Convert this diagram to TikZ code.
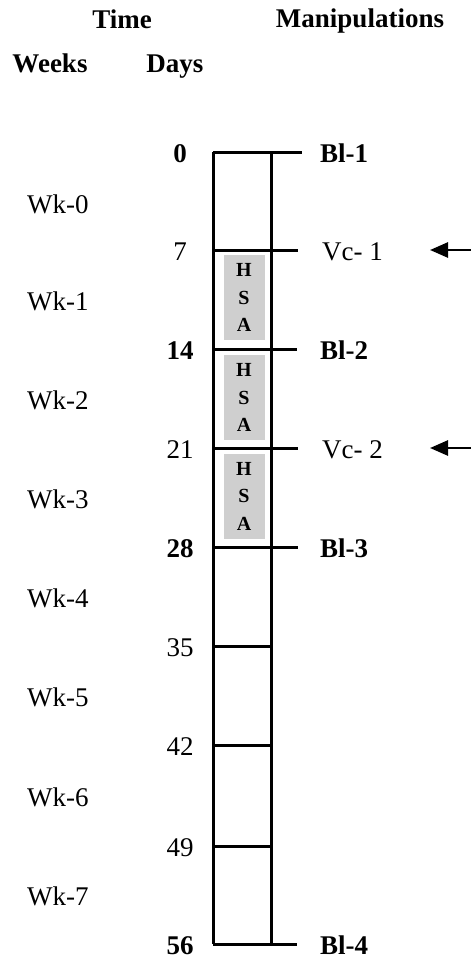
\documentclass[tikz,border=0pt]{standalone}
\usepackage{fontspec}
\setmainfont{Liberation Serif}
\usetikzlibrary{arrows.meta}
\begin{document}
\begin{tikzpicture}[x=1pt,y=-1pt,
  lbl/.style={font=\fontsize{27}{30}\selectfont, inner sep=0pt, anchor=base west},
  blbl/.style={font=\fontsize{27}{30}\selectfont\bfseries, inner sep=0pt, anchor=base west},
  daylbl/.style={font=\fontsize{27}{30}\selectfont, inner sep=0pt, anchor=base},
  bdaylbl/.style={font=\fontsize{27}{30}\selectfont\bfseries, inner sep=0pt, anchor=base},
  head/.style={font=\fontsize{27}{30}\selectfont\bfseries, inner sep=0pt, anchor=base},
  tickline/.style={line width=3pt},
  hsa/.style={fill=gray!38, draw=none, minimum width=41pt, minimum height=85pt,
    align=center, font=\fontsize{20}{27.5}\selectfont\bfseries, inner sep=0pt},
  arr/.style={-{Triangle[length=18pt,width=15pt]}, line width=2.6pt}]
\useasboundingbox (0,0) rectangle (471,959);

% headers
\node[head] (time) at (122,28) {Time};
\node[head] (manip) at (360,27) {Manipulations};
\node[head] (weeks) at (50,72) {Weeks};
\node[head] (days) at (175,72) {Days};

% HSA boxes
\node[hsa] (hsa1) at (244,297.5) {H\\S\\A};
\node[hsa] (hsa2) at (244,397.5) {H\\S\\A};
\node[hsa] (hsa3) at (244,496) {H\\S\\A};

% column
\coordinate (TL) at (213,152);
\coordinate (TR) at (271,152);
\coordinate (BL) at (213,944);
\coordinate (BR) at (271,944);
\draw[tickline] (TL) -- (BL);
\draw[tickline] (TR) -- (BR);

% ticks
\foreach \d/\y/\e in {0/152/302, 7/250/298, 14/349/297, 21/448/298, 28/547/298, 35/646/271, 42/745/271, 49/846/271, 56/944/297}{
  \coordinate (s\d) at (213,\y);
  \coordinate (e\d) at (\e,\y);
  \draw[tickline] (s\d) -- (e\d);
}

% day labels
\node[bdaylbl] (d0) at (180,162) {0};
\node[daylbl] (d7) at (180,260) {7};
\node[bdaylbl] (d14) at (180,359) {14};
\node[daylbl] (d21) at (180,458) {21};
\node[bdaylbl] (d28) at (180,557) {28};
\node[daylbl] (d35) at (180,656) {35};
\node[daylbl] (d42) at (180,755) {42};
\node[daylbl] (d49) at (180,856) {49};
\node[bdaylbl] (d56) at (180,954) {56};

% week labels
\foreach \w/\y in {0/213, 1/310, 2/409, 3/508, 4/607, 5/706, 6/806, 7/905}{
  \node[lbl] (wk\w) at (27,\y) {Wk-\w};
}

% manipulation labels
\node[blbl] (bl1) at (320,162) {Bl-1};
\node[lbl] (vc1) at (322,260) {Vc- 1};
\node[blbl] (bl2) at (320,359) {Bl-2};
\node[lbl] (vc2) at (322,458) {Vc- 2};
\node[blbl] (bl3) at (320,557) {Bl-3};
\node[blbl] (bl4) at (320,954) {Bl-4};

% arrows
\coordinate (a1s) at (472,250);
\coordinate (a1e) at (430,250);
\coordinate (a2s) at (472,448);
\coordinate (a2e) at (430,448);
\draw[arr] (a1s) -- (a1e);
\draw[arr] (a2s) -- (a2e);
\end{tikzpicture}
\end{document}
